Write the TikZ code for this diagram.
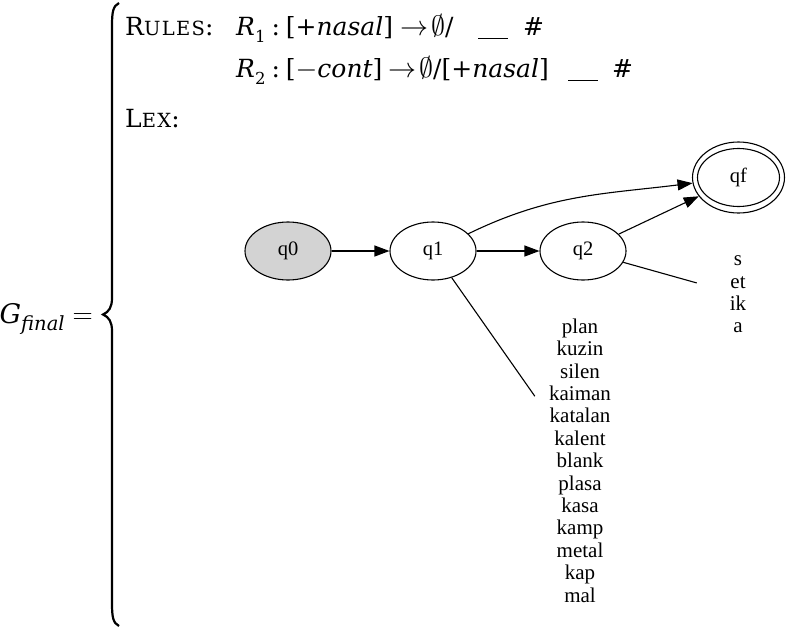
\RequirePackage{fix-cm}
\documentclass[tikz,border=0pt]{standalone}
\usepackage{fontspec}
\usepackage{amsmath}
\newfontfamily\dotfont{Liberation Serif}
\newfontfamily\rulefont{DejaVu Serif}
\usetikzlibrary{arrows.meta,shapes.geometric}
\definecolor{stategray}{HTML}{D3D3D3}
\newcommand{\lowsub}[1]{\raisebox{-0.3em}{\fontsize{16.5}{16}\selectfont #1}}
\newcommand{\fakesc}[2]{#1{\fontsize{19.5}{19}\selectfont\addfontfeatures{LetterSpace=7}#2}}
\newcommand{\bigsym}[1]{{\fontsize{28}{28}\selectfont$#1$}}

\begin{document}
\begin{tikzpicture}[
  x=1pt, y=-1pt,
  state/.style={ellipse, draw, line width=1.1pt, minimum width=86pt, minimum height=58pt,
    inner sep=0pt, font=\dotfont\fontsize{20.5}{24}\selectfont},
  lexlist/.style={rectangle, align=center, inner sep=0pt, font=\dotfont\fontsize{21}{22.4}\selectfont},
  edge/.style={line width=1.1pt, -{Triangle[length=15pt,width=11pt]}},
  textrow/.style={anchor=base west, inner sep=0pt, font=\rulefont\fontsize{25}{28}\selectfont}
]
\useasboundingbox (0,0) rectangle (786,629);

\node [textrow, anchor=base east] (gfinal) at (93,323)
  {{\fontsize{27}{27}\selectfont\itshape G}\raisebox{-0.3em}{\fontsize{19.5}{19}\selectfont\itshape final}\hspace{8pt}\bigsym{=}};
\draw [line width=2.2pt] (119,3) .. controls (113,6) and (112,12) .. (112,26) -- (112,298)
  .. controls (112,307) and (109,312) .. (103,314.5) .. controls (109,317) and (112,322) .. (112,331)
  -- (112,603) .. controls (112,617) and (113,623) .. (119,626);

\node [textrow] (rules) at (125,35) {\fakesc{R}{ULES}:};
\node [textrow] (rulea) at (236,35) {{\itshape R}\lowsub{1}\hspace{6pt}:\hspace{6pt}[+{\itshape nasal}]};
\node [textrow] (rulearr) at (400,35) {\bigsym{\rightarrow}\hspace{3pt}\bigsym{\emptyset}/};
\node [textrow] (blanka) at (478,35) {$\underline{\hbox to 30pt{}}$};
\node [textrow] (hasha) at (523,35) {\itshape\#};
\node [textrow] (ruleb) at (236,77) {{\itshape R}\lowsub{2}\hspace{6pt}:\hspace{6pt}[\bigsym{-}{\itshape cont}]};
\node [textrow] (rulebarr) at (388,77) {\bigsym{\rightarrow}\hspace{3pt}\bigsym{\emptyset}/[+{\itshape nasal}]};
\node [textrow] (blankb) at (568,77) {$\underline{\hbox to 30pt{}}$};
\node [textrow] (hashb) at (612,77) {\itshape\#};
\node [textrow] (lex) at (125,127) {\fakesc{L}{EX}:};

\node [state, fill=stategray] (q0) at (288,251) {q0};
\node [state] (q1) at (433,251) {q1};
\node [state] (q2) at (583,251) {q2};
\node [state, minimum width=92pt, minimum height=71pt] (qfo) at (738.5,177.5) {};
\node [state, minimum width=82pt, minimum height=58pt] (qf) at (738.5,177.5) {qf};

\node [lexlist, minimum width=90pt] (lexa) at (580,460.5)
  {plan\\kuzin\\silen\\kaiman\\katalan\\kalent\\blank\\plasa\\kasa\\kamp\\metal\\kap\\mal};
\node [lexlist, minimum width=82pt] (lexb) at (738,294.5) {s\\et\\ik\\a};

\draw [edge] (q0) -- (q1);
\draw [edge] (q1) -- (q2);
\draw [edge] (q1) to [out=26, in=187] (qfo);
\draw [edge] (q2) -- (qfo);
\draw [line width=1.1pt] (q1) -- (lexa);
\draw [line width=1.1pt] (q2) -- (lexb);
\end{tikzpicture}
\end{document}
